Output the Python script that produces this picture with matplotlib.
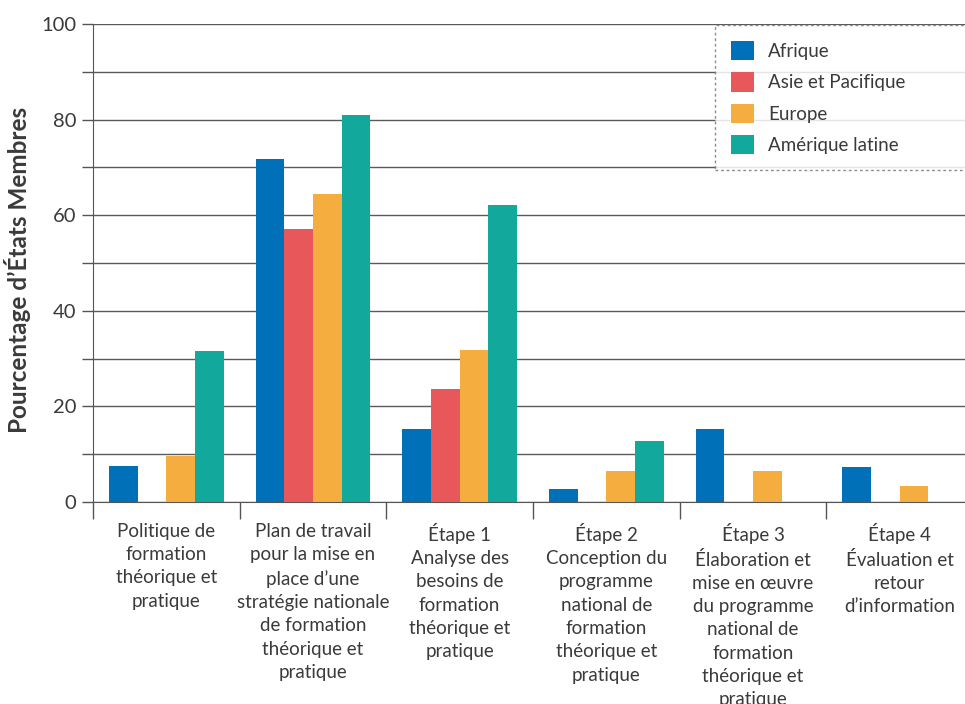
import matplotlib.pyplot as plt
import numpy as np
from matplotlib.ticker import MultipleLocator, FixedLocator

# categories on the x axis
categories = [
    "Politique de\nformation\nthéorique et\npratique",
    "Plan de travail\npour la mise en\nplace d’une\nstratégie nationale\nde formation\nthéorique et\npratique",
    "Étape 1\nAnalyse des\nbesoins de\nformation\nthéorique et\npratique",
    "Étape 2\nConception du\nprogramme\nnational de\nformation\nthéorique et\npratique",
    "Étape 3\nÉlaboration et\nmise en œuvre\ndu programme\nnational de\nformation\nthéorique et\npratique",
    "Étape 4\nÉvaluation et\nretour\nd’information",
]

regions = ["Afrique", "Asie et Pacifique", "Europe", "Amérique latine"]
afrique = [7.5, 71.8, 15.2, 2.8, 15.2, 7.4]
asie_pacifique = [0, 57.1, 23.6, 0, 0, 0]
europe = [9.7, 64.4, 31.7, 6.4, 6.5, 3.3]
amerique_latine = [31.6, 81.0, 62.1, 12.7, 0, 0]
colors = ["#0070B8", "#E8585A", "#F5AD3F", "#12A89C"]

plt.rcParams['font.family'] = ['Lato', 'DejaVu Sans']
text_col = "#3a3a3a"

fig = plt.figure(figsize=(9.65, 7.04), dpi=100)
ax = fig.add_axes([93/965, 202/704, 880/965, 478/704])

series = [afrique, asie_pacifique, europe, amerique_latine]
x = np.arange(len(categories)) + 0.5
w = 0.195
for i, (vals, c, lab) in enumerate(zip(series, colors, regions)):
    ax.bar(x + (i - 1.5) * w, vals, w, color=c, label=lab, zorder=3)

ax.set_xlim(0, len(categories))
ax.set_ylim(0, 100)

# grille horizontale tous les 10
ax.yaxis.set_major_locator(MultipleLocator(20))
ax.yaxis.set_minor_locator(MultipleLocator(10))
ax.grid(axis='y', which='both', color='#5a5a5a', linewidth=1.0, zorder=0)
ax.tick_params(axis='y', which='both', direction='out', length=8, width=1,
               color='#555555', labelsize=14.5, labelcolor=text_col, pad=4)

# x: etiquettes au centre, traits aux limites des categories
ax.xaxis.set_major_locator(FixedLocator(x))
ax.set_xticklabels(categories, fontsize=13.5, color=text_col, linespacing=1.45, va='top')
ax.xaxis.set_minor_locator(FixedLocator(np.arange(len(categories) + 1)))
ax.tick_params(axis='x', which='major', length=0, pad=15)
ax.tick_params(axis='x', which='minor', length=12, width=1, color='#555555')

for s in ['top', 'right']:
    ax.spines[s].set_visible(False)
ax.spines['left'].set_color('#555555')
ax.spines['bottom'].set_color('#555555')
ax.spines['left'].set_zorder(4)

ax.set_ylabel("Pourcentage d’États Membres", fontsize=17.5, fontweight='bold',
              color=text_col)
ax.yaxis.set_label_coords(-0.071, 0.485)

leg = ax.legend(loc='upper left', bbox_to_anchor=(715/965, 1 - 167/704, 260/965, 142/704),
                bbox_transform=fig.transFigure, mode='expand', fontsize=13.5,
                handlelength=1.25, handleheight=1.2, labelspacing=0.65,
                borderpad=0.85, handletextpad=0.75, borderaxespad=0,
                fancybox=False, framealpha=0.85)
leg.get_frame().set_linestyle((0, (2, 2)))
leg.get_frame().set_edgecolor('#777777')
leg.get_frame().set_linewidth(1)
for t in leg.get_texts():
    t.set_color(text_col)

fig.savefig("out.png", dpi=100)
